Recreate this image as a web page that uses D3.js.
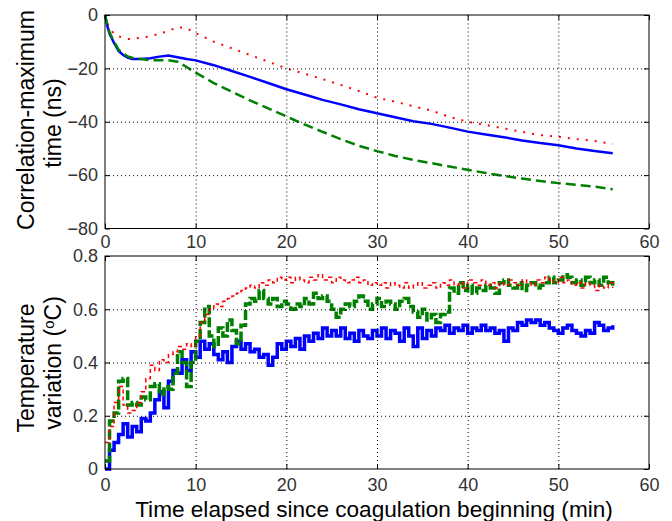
<!DOCTYPE html>
<html>
<head>
<meta charset="utf-8">
<script src="https://cdn.jsdelivr.net/npm/d3@7"></script>
<style>
  body { margin: 0; background: #fff; }
  text { font-family: "Liberation Sans", Arial, sans-serif; }
</style>
</head>
<body>
<svg id="chart" width="672" height="521"></svg>
<script>
// ---- data ----
var xTicks = [0, 10, 20, 30, 40, 50, 60]
var topTicks = [-80, -60, -40, -20, 0]
var bottomTicks = [0, 0.2, 0.4, 0.6, 0.8]

// top panel: correlation-maximum time (ns)
var topTime = [0, 0.25, 0.5, 1, 1.5, 2, 2.5, 3, 4, 5, 6, 7, 8, 9, 10, 12, 14, 16, 18, 20,
               22, 24, 26, 28, 30, 32, 34, 36, 38, 40, 42, 44, 46, 48, 50, 52, 54, 56]
var topRed = [0, -3, -5, -7, -8, -8.5, -9, -9, -8.5, -8, -7, -6, -4.5, -5, -6.8, -10, -12.5, -15, -17.5, -20,
              -22, -24, -26.2, -28.5, -31, -32.5, -34.2, -35.8, -38.2, -40, -41.2, -42.5, -43.8, -45, -45.6, -46.5, -47.2, -48.3]
var topBlue = [0, -4, -7, -10.5, -13.5, -15, -16, -16.5, -16.5, -16.2, -15.6, -15.2, -15.8, -16.5, -17, -18.8, -21, -23.2, -25.5, -27.8,
               -29.8, -31.8, -33.5, -35.3, -36.8, -38.3, -39.8, -40.8, -42.2, -43.7, -44.8, -45.8, -47, -48, -48.8, -50, -51, -51.8]
var topGreen = [0, -3.5, -6.5, -10, -13, -14.5, -15.5, -16, -16.5, -17, -17, -17, -17.5, -19.5, -21.6, -25.5, -28.8, -32, -35, -38,
                -41, -43.8, -46.5, -49, -51, -52.8, -54.3, -55.5, -56.8, -58, -59.2, -60.3, -61.3, -62.2, -63, -63.6, -64.3, -65.3]

// bottom panel: temperature variation, sampled every 0.5 min from 0 to 56
var bottomTime = d3.range(0, 56.01, 0.5)
var bottomBlue = [
  0.00,0.07,0.10,0.13,0.17,0.12,0.16,0.14,0.19,0.18,
  0.21,0.26,0.29,0.23,0.33,0.37,0.36,0.41,0.37,0.44,
  0.42,0.48,0.45,0.47,0.43,0.41,0.44,0.40,0.46,0.48,
  0.45,0.47,0.44,0.45,0.42,0.43,0.39,0.42,0.47,0.45,
  0.48,0.46,0.49,0.45,0.50,0.48,0.51,0.49,0.53,0.50,
  0.52,0.50,0.53,0.49,0.51,0.48,0.52,0.50,0.49,0.52,
  0.50,0.53,0.49,0.52,0.51,0.48,0.53,0.50,0.46,0.53,
  0.49,0.52,0.50,0.53,0.52,0.54,0.51,0.53,0.52,0.54,
  0.51,0.53,0.52,0.54,0.52,0.53,0.51,0.52,0.48,0.53,
  0.52,0.55,0.54,0.56,0.55,0.56,0.54,0.55,0.53,0.52,
  0.51,0.53,0.54,0.52,0.51,0.50,0.52,0.51,0.55,0.54,
  0.52,0.53,0.54]
var bottomGreen = [
  0.03,0.18,0.21,0.33,0.34,0.24,0.25,0.24,0.27,0.26,
  0.31,0.32,0.28,0.31,0.30,0.36,0.44,0.40,0.31,0.40,
  0.48,0.55,0.61,0.50,0.46,0.53,0.50,0.56,0.52,0.47,
  0.54,0.62,0.64,0.63,0.67,0.64,0.62,0.64,0.61,0.63,
  0.62,0.60,0.62,0.61,0.64,0.62,0.66,0.64,0.65,0.63,
  0.60,0.57,0.60,0.62,0.61,0.63,0.65,0.63,0.60,0.62,
  0.64,0.61,0.63,0.62,0.60,0.63,0.64,0.61,0.59,0.57,
  0.60,0.56,0.58,0.55,0.58,0.59,0.68,0.66,0.70,0.67,
  0.69,0.66,0.68,0.67,0.69,0.68,0.66,0.70,0.71,0.69,
  0.68,0.70,0.67,0.69,0.70,0.68,0.69,0.70,0.72,0.70,
  0.71,0.73,0.72,0.70,0.71,0.69,0.72,0.70,0.71,0.69,
  0.72,0.70,0.68]
var bottomRed = [
  0.10,0.16,0.25,0.31,0.24,0.21,0.22,0.25,0.29,0.34,
  0.39,0.37,0.41,0.40,0.43,0.44,0.46,0.45,0.47,0.46,
  0.50,0.55,0.58,0.60,0.62,0.61,0.63,0.64,0.65,0.66,
  0.67,0.68,0.69,0.68,0.70,0.69,0.71,0.70,0.72,0.71,
  0.72,0.70,0.72,0.71,0.70,0.72,0.71,0.73,0.71,0.72,
  0.70,0.72,0.71,0.70,0.71,0.72,0.70,0.71,0.69,0.70,
  0.69,0.70,0.68,0.70,0.69,0.68,0.70,0.68,0.69,0.70,
  0.68,0.69,0.70,0.68,0.70,0.69,0.71,0.69,0.70,0.68,
  0.71,0.70,0.69,0.71,0.69,0.70,0.68,0.70,0.69,0.71,
  0.70,0.69,0.71,0.70,0.69,0.71,0.70,0.72,0.71,0.70,
  0.72,0.70,0.71,0.69,0.70,0.68,0.70,0.69,0.67,0.69,
  0.68,0.70,0.68]

// ---- drawing ----
var svg = d3.select("#chart")
var left = 105, right = 649
var tickColor = "#333"

var x = d3.scaleLinear().domain([0, 60]).range([left, right])
var yTop = d3.scaleLinear().domain([-80, 0]).range([228.5, 15])
var yBot = d3.scaleLinear().domain([0, 0.8]).range([469, 256])

function drawPanel(y, yTicks, yFormat, xPad) {
  var y0 = y.range()[1], y1 = y.range()[0]
  var g = svg.append("g")

  // dotted grid
  g.append("g")
   .attr("transform", `translate(0,${y1})`)
   .call(d3.axisBottom(x).tickValues(xTicks.slice(1, -1)).tickSize(-(y1 - y0)).tickFormat(""))
   .call(s => s.select(".domain").remove())
   .selectAll("line").attr("stroke", "#000").attr("stroke-dasharray", "1,3")
  g.append("g")
   .attr("transform", `translate(${left},0)`)
   .call(d3.axisLeft(y).tickValues(yTicks.slice(1, -1)).tickSize(-(right - left)).tickFormat(""))
   .call(s => s.select(".domain").remove())
   .selectAll("line").attr("stroke", "#000").attr("stroke-dasharray", "1,3")

  // axes with inward ticks
  var bottomAx = g.append("g").attr("transform", `translate(0,${y1})`)
                  .call(d3.axisBottom(x).tickValues(xTicks).tickSize(-5).tickPadding(xPad))
  var leftAx = g.append("g").attr("transform", `translate(${left},0)`)
                .call(d3.axisLeft(y).tickValues(yTicks).tickSize(-5).tickPadding(7).tickFormat(yFormat))
  var topAx = g.append("g").attr("transform", `translate(0,${y0})`)
               .call(d3.axisTop(x).tickValues(xTicks).tickSize(-5).tickFormat(""))
  var rightAx = g.append("g").attr("transform", `translate(${right},0)`)
                 .call(d3.axisRight(y).tickValues(yTicks).tickSize(-5).tickFormat(""))

  ;[bottomAx, leftAx, topAx, rightAx].forEach(a => {
    a.select(".domain").remove()
    a.selectAll("line").attr("stroke", "#000")
    a.selectAll("text").attr("font-size", 18).attr("fill", tickColor)
       .attr("font-family", '"Liberation Sans", Arial, sans-serif')
  })

  // box
  g.append("rect")
   .attr("x", left).attr("y", y0)
   .attr("width", right - left).attr("height", y1 - y0)
   .attr("fill", "none").attr("stroke", "#000").attr("stroke-width", 1)
  return g
}

function drawLine(time, values, y, color, width, dash, curve) {
  var line = d3.line().x((d, i) => x(time[i])).y(d => y(d)).curve(curve || d3.curveLinear)
  svg.append("path")
     .datum(values)
     .attr("d", line)
     .attr("fill", "none")
     .attr("stroke", color)
     .attr("stroke-width", width)
     .attr("stroke-dasharray", dash)
     .attr("stroke-linejoin", "miter")
}

// top panel
drawLine(topTime, topRed, yTop, "#ff0000", 2, "2,7")
drawLine(topTime, topBlue, yTop, "#0000ff", 2.5, null)
drawLine(topTime, topGreen, yTop, "#008000", 2.5, "10,5")
drawPanel(yTop, topTicks, d3.format("d"), 7)

// bottom panel (quantised readings -> stepped traces)
drawLine(bottomTime, bottomBlue, yBot, "#0000ff", 3.5, null, d3.curveStepAfter)
drawLine(bottomTime, bottomGreen, yBot, "#008000", 3.5, "10,3", d3.curveStepAfter)
drawLine(bottomTime, bottomRed, yBot, "#ff0000", 1.5, "4,3", d3.curveStepAfter)
drawPanel(yBot, bottomTicks, d => d === 0 ? "0" : d3.format(".1f")(d), 9)

// axis labels
function fit(t, target) {
  var len = t.node().getComputedTextLength()
  t.attr("font-size", 22 * target / len)
}

var xl = svg.append("text")
   .attr("x", 374).attr("y", 517)
   .attr("text-anchor", "middle").attr("font-size", 22).attr("fill", "#000")
   .text("Time elapsed since coagulation beginning (min)")
fit(xl, 478)

var yl1 = svg.append("text")
   .attr("transform", "translate(34,120) rotate(-90)")
   .attr("text-anchor", "middle").attr("font-size", 22).attr("fill", "#000")
   .text("Correlation-maximum")
fit(yl1, 220)
svg.append("text")
   .attr("transform", "translate(61,123) rotate(-90)")
   .attr("text-anchor", "middle").attr("font-size", yl1.attr("font-size")).attr("fill", "#000")
   .text("time (ns)")

svg.append("text")
   .attr("transform", "translate(34,368) rotate(-90)")
   .attr("text-anchor", "middle").attr("font-size", yl1.attr("font-size")).attr("fill", "#000")
   .text("Temperature")
var yl4 = svg.append("text")
   .attr("transform", "translate(61,363) rotate(-90)")
   .attr("text-anchor", "middle").attr("font-size", yl1.attr("font-size")).attr("fill", "#000")
yl4.append("tspan").text("variation (")
yl4.append("tspan").attr("font-size", "0.65em").attr("dy", "-0.5em").text("o")
yl4.append("tspan").attr("dy", "0.33em").text("C)")
</script>
</body>
</html>
